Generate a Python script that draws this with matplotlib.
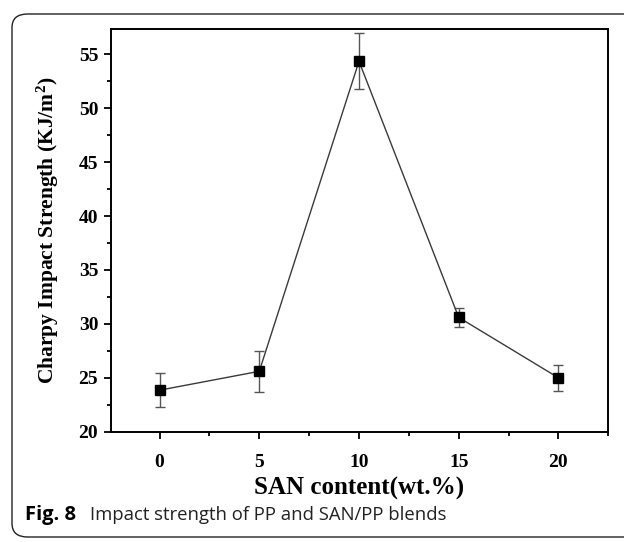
import numpy as np
import matplotlib
matplotlib.use('Agg')
import matplotlib.pyplot as plt
from matplotlib.patches import FancyBboxPatch
from matplotlib.ticker import MultipleLocator

# SAN content (wt.%) and Charpy impact strength (KJ/m2)
san_content = [0, 5, 10, 15, 20]
impact_strength = [23.85, 25.6, 54.35, 30.6, 25.0]
impact_error = [1.6, 1.9, 2.6, 0.9, 1.2]

plt.rcParams['font.family'] = 'Liberation Serif'
plt.rcParams['font.weight'] = 'bold'
plt.rcParams['mathtext.fontset'] = 'custom'
plt.rcParams['mathtext.rm'] = 'Liberation Serif:bold'
plt.rcParams['mathtext.bf'] = 'Liberation Serif:bold'
plt.rcParams['mathtext.it'] = 'Liberation Serif:bold'

fig = plt.figure(figsize=(6.24, 5.42), dpi=100)
ax = fig.add_axes([0.1774, 0.2035, 0.7974, 0.7421])

ax.errorbar(san_content, impact_strength, yerr=impact_error,
            color='#3a3a3a', linewidth=1.0, marker='s', markersize=6.5,
            markerfacecolor='black', markeredgecolor='black',
            ecolor='#555555', elinewidth=1.0, capsize=3.5, capthick=1.0)

ax.set_xlim(-2.45, 22.5)
ax.set_ylim(20, 57.3)
ax.xaxis.set_major_locator(MultipleLocator(5))
ax.xaxis.set_minor_locator(MultipleLocator(2.5))
ax.yaxis.set_major_locator(MultipleLocator(5))
ax.yaxis.set_minor_locator(MultipleLocator(2.5))
ax.tick_params(which='both', direction='out', top=False, right=False,
               width=1.3, labelsize=14)
ax.tick_params(axis='x', which='major', length=5, pad=11)
ax.tick_params(axis='y', which='major', length=5, pad=4)
ax.tick_params(which='minor', length=3)
for s in ax.spines.values():
    s.set_linewidth(1.4)

ax.set_xlabel('SAN content(wt.%)', fontsize=18, fontweight='bold', labelpad=4)
ax.set_ylabel(r'Charpy Impact Strength (KJ/m$^{2}$)', fontsize=15.5,
              fontweight='bold', labelpad=13)

# rounded frame around figure and caption
frame = FancyBboxPatch((12 / 624, 5 / 542), 640 / 624, 523 / 542,
                       boxstyle='round,pad=0,rounding_size=0.025',
                       transform=fig.transFigure, fill=False,
                       edgecolor='#222222', linewidth=1.0, clip_on=False)
fig.patches.append(frame)

fig.text(25 / 624, 1 - 515 / 542, 'Fig. 8', fontsize=14.5, fontweight='bold',
         family='Open Sans', va='center', ha='left')
fig.text(90 / 624, 1 - 515 / 542, 'Impact strength of PP and SAN/PP blends',
         fontsize=13.3, fontweight='normal', family='Open Sans',
         color='#222222', va='center', ha='left')

fig.savefig('out.png', dpi=100)
